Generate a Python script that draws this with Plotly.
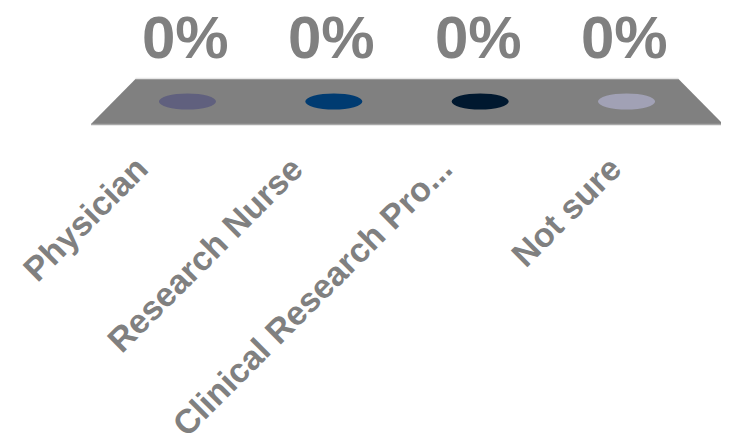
import plotly.graph_objects as go

categories = ["Physician", "Research Nurse", "Clinical Research Pro...", "Not sure"]
values = [0, 0, 0, 0]
colors = ["#60607e", "#003b71", "#00182f", "#a1a1b5"]

# per-label horizontal nudges (pixels) for the rotated category labels
label_nudge = [-29, -21, -18, 5]

GRAY = "#808080"
FONT = "Liberation Sans, Arial, sans-serif"

# the page body has an 8px default margin, so the figure is drawn 8px smaller
W, H = 721, 438

fig = go.Figure()

fig.add_trace(go.Scatter(x=list(range(len(categories))), y=values, mode="markers",
                         marker=dict(size=1, color="rgba(0,0,0,0)"), hoverinfo="skip",
                         showlegend=False))

shapes = []
shapes.append(dict(type="path", xref="x", yref="y",
                   path="M -0.659,-1 L 3.659,-1 L 3.355,1 L -0.355,1 Z",
                   fillcolor=GRAY, line=dict(width=0), layer="below"))
shapes.append(dict(type="line", xref="x", yref="y", x0=-0.355, x1=3.355, y0=1.02, y1=1.02,
                   line=dict(color="#e6e6e6", width=1.5), layer="below"))
shapes.append(dict(type="line", xref="x", yref="y", x0=-0.659, x1=3.659, y0=-1.02, y1=-1.02,
                   line=dict(color="#a8a8a8", width=1.5), layer="below"))

annotations = []
for i, (cat, v, c) in enumerate(zip(categories, values, colors)):
    shapes.append(dict(type="circle", xref="x", yref="y",
                       x0=i - 0.195, x1=i + 0.195, y0=v - 0.36, y1=v + 0.36,
                       fillcolor=c, line=dict(width=0)))
    annotations.append(dict(x=i, y=v, xref="x", yref="y", text=f"{v}%", showarrow=False,
                            yshift=64, xshift=-2,
                            font=dict(family=FONT, size=60, color=GRAY, weight="bold")))
    annotations.append(dict(x=i, y=-1, xref="x", yref="y", text=cat, showarrow=False,
                            textangle=-45, xanchor="right", yanchor="top",
                            xshift=label_nudge[i], yshift=-22,
                            font=dict(family=FONT, size=34, color=GRAY, weight="bold")))

fig.update_layout(
    width=W, height=H,
    margin=dict(l=77, r=0, t=0, b=316, autoexpand=False),
    paper_bgcolor="white", plot_bgcolor="white",
    shapes=shapes, annotations=annotations,
    showlegend=False,
    xaxis=dict(range=[-0.7, 3.7], showticklabels=False, showgrid=False, zeroline=False,
               showline=False, ticks="", automargin=False),
    yaxis=dict(range=[-1.267, 4.156], visible=False, showgrid=False, zeroline=False,
               automargin=False),
)

fig.write_html("out.html")
